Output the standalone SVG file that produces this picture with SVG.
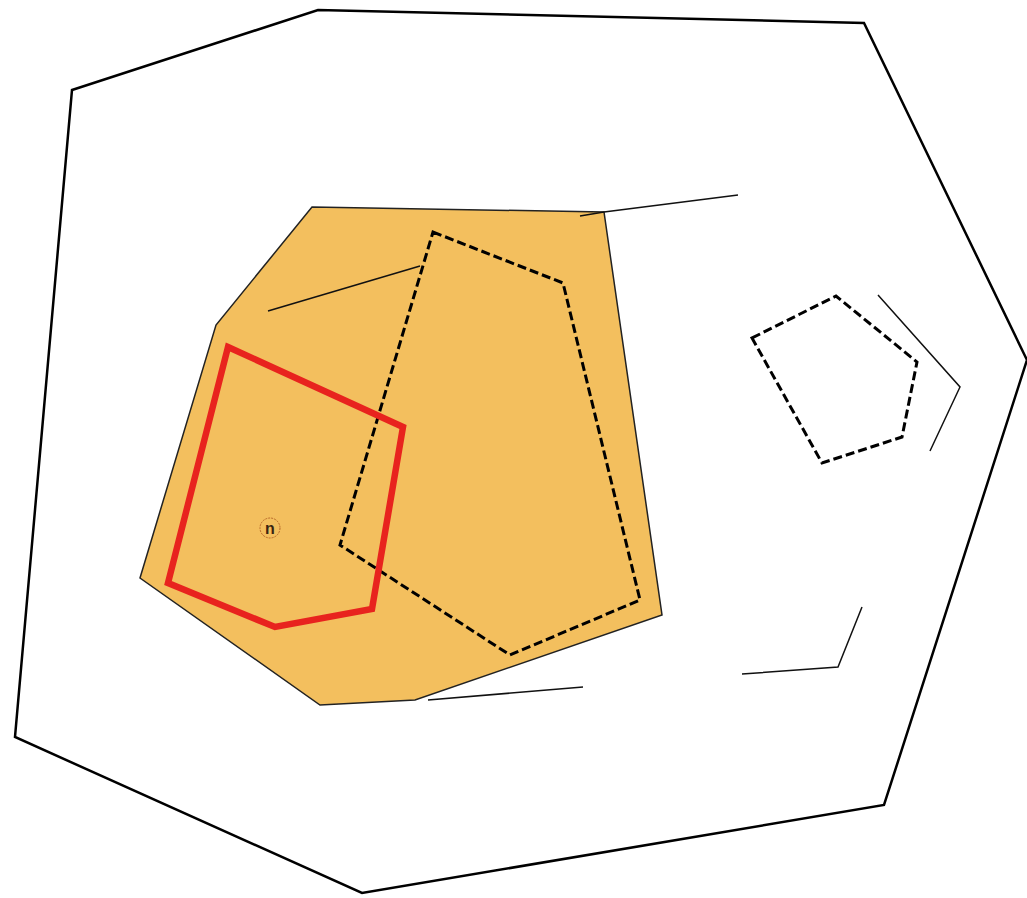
<svg xmlns="http://www.w3.org/2000/svg" width="1027" height="898" viewBox="0 0 1027 898">
<style>
.outer{fill:none;stroke:#000;stroke-width:2.5;stroke-linejoin:miter}
.zone{fill:#F3BF5E;stroke:#222;stroke-width:1.5}
.dash{fill:none;stroke:#000;stroke-width:3;stroke-dasharray:9 4}
.red{fill:none;stroke:#E8231E;stroke-width:6.5;stroke-linejoin:miter}
.thin{fill:none;stroke:#111;stroke-width:1.5}
.lbl{font-family:"Liberation Sans",Arial,sans-serif;font-size:16px;font-weight:bold;fill:#3a2410}
</style>
<rect width="1027" height="898" fill="#fff"/>
<g id="outer"><polygon class="outer" points="72,90 318,10 864,23 1027,360 884,805 362,893 15,737"/></g>
<g id="zone"><polygon class="zone" points="312,207 604,212 662,615 415,700 320,705 140,578 216,325"/></g>
<g id="dashed-main"><polygon class="dash" points="433,232 563,283 640,600 510,655 340,545"/></g>
<g id="red-area"><polygon class="red" points="228,347 403,427 372,609 275,627 168,583"/></g>
<g id="marker-n">
<circle cx="270" cy="528" r="10" fill="none" stroke="#B86A2A" stroke-width="1" stroke-dasharray="2 1"/>
<text class="lbl" x="270" y="534" text-anchor="middle">n</text>
</g>
<g id="dashed-small"><polygon class="dash" points="752,338 836,296 917,362 902,437 822,463"/></g>
<g id="connectors">
<polyline class="thin" points="580,216 604,212 738,195"/>
<polyline class="thin" points="268,311 420,266"/>
<polyline class="thin" points="878,295 960,387 930,451"/>
<polyline class="thin" points="428,700 583,687"/>
<polyline class="thin" points="742,674 838,667 862,607"/>
</g>
</svg>
